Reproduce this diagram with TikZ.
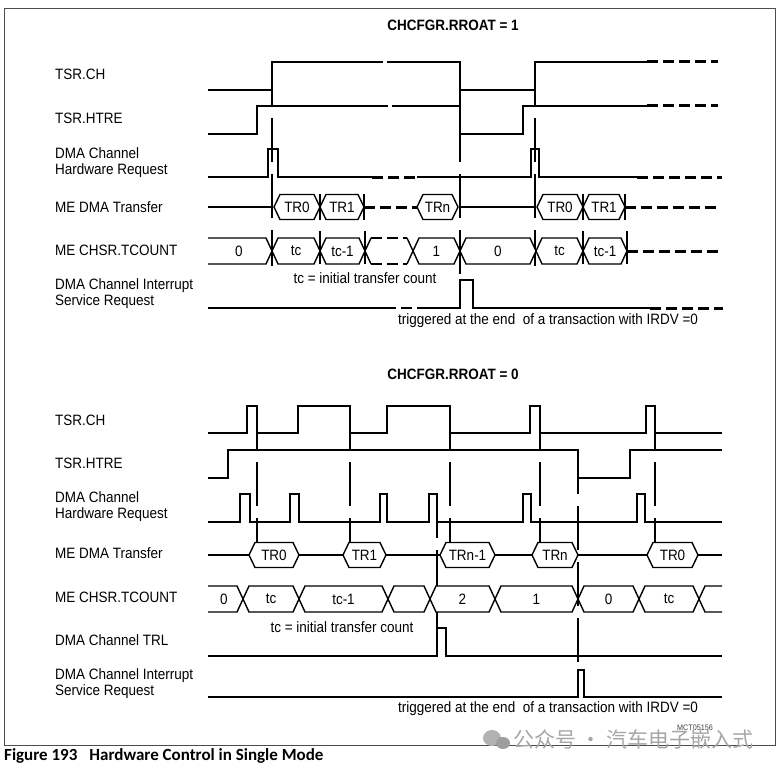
\documentclass[tikz,border=0pt]{standalone}
\usepackage{fontspec}
\setmainfont[FakeStretch=0.9]{Liberation Sans}
\newfontfamily\capfont{Carlito}
\newfontfamily\cjkfont{Noto Sans CJK SC}
\tikzset{
  sig/.style={line width=2.6pt},
  thinsig/.style={line width=1.9pt},
  req/.style={line width=2.1pt},
  bus/.style={line width=1.4pt},
  dsh/.style={line width=3pt, dash pattern=on 11pt off 5pt},
  marker/.style={line width=2.4pt, dash pattern=on 44pt off 12pt},
  tick/.style={line width=2.4pt},
  lbl/.style={anchor=west, inner sep=0pt, align=left, font=\fontsize{15}{16}\selectfont},
  val/.style={inner sep=0pt, font=\fontsize{15}{16}\selectfont},
  ttl/.style={inner sep=0pt, font=\fontsize{15}{16}\selectfont\bfseries},
}
% hexagon / bus value: x1 x2 y halfheight name label
\newcommand\hexb[6]{%
  \draw[bus,fill=white] (#1,#3) -- ({#1+6},{#3-#4}) -- ({#2-6},{#3-#4}) -- (#2,#3) -- ({#2-6},{#3+#4}) -- ({#1+6},{#3+#4}) -- cycle;
  \node[val] (#5) at ({(#1+#2)/2},#3) {#6};}
\begin{document}
\begin{tikzpicture}[x=1pt,y=-1pt]
\useasboundingbox (0,0) rectangle (780,768);
\draw[line width=0.8pt, black!70] (4,8) rectangle (775,745);

% ---------------- titles and labels ----------------
\node[ttl] (t1) at (453,25) {CHCFGR.RROAT = 1};
\node[ttl] (t0) at (453,374) {CHCFGR.RROAT = 0};

\node[lbl] (a1) at (55,74) {TSR.CH};
\node[lbl] (a2) at (55,118) {TSR.HTRE};
\node[lbl] (a3) at (55,163) {DMA Channel\\Hardware Request};
\node[lbl] (a4) at (55,207) {ME DMA Transfer};
\node[lbl] (a5) at (55,250) {ME CHSR.TCOUNT};
\node[lbl] (a6) at (55,294) {DMA Channel Interrupt\\Service Request};

\node[lbl] (b1) at (55,420) {TSR.CH};
\node[lbl] (b2) at (55,463) {TSR.HTRE};
\node[lbl] (b3) at (55,507) {DMA Channel\\Hardware Request};
\node[lbl] (b4) at (55,553) {ME DMA Transfer};
\node[lbl] (b5) at (55,597) {ME CHSR.TCOUNT};
\node[lbl] (b6) at (55,640) {DMA Channel TRL};
\node[lbl] (b7) at (55,684) {DMA Channel Interrupt\\Service Request};

% ================= RROAT = 1 =================
% markers
\draw[marker] (272,62) -- (272,266);
\draw[marker] (460,62) -- (460,280);
\draw[marker] (535,62) -- (535,266);

% TSR.CH
\draw[sig] (208,90) -- (272,90) -- (272,62) -- (372,62);
\draw[sig, dash pattern=on 11pt off 4pt] (372,62) -- (398,62);
\draw[sig] (398,62) -- (460,62) -- (460,90) -- (535,90) -- (535,62) -- (647,62);
\draw[dsh] (647,62) -- (718,62);

% TSR.HTRE
\draw[sig] (208,134) -- (257,134) -- (257,106) -- (377,106);
\draw[sig, dash pattern=on 11pt off 4pt] (377,106) -- (402,106);
\draw[sig] (402,106) -- (460,106) -- (460,134) -- (523,134) -- (523,106) -- (647,106);
\draw[dsh] (647,106) -- (718,106);

% Hardware request
\draw[req] (208,177) -- (268,177) -- (268,149) -- (278,149) -- (278,177) -- (372,177);
\draw[dsh] (372,177) -- (417,177);
\draw[req] (417,177) -- (531,177) -- (531,149) -- (539,149) -- (539,177) -- (637,177);
\draw[dsh] (637,177) -- (722,177);

% ME DMA Transfer
\draw[sig] (208,207) -- (272,207);
\hexb{274}{320}{207}{12.5}{u1}{TR0}
\hexb{320}{364}{207}{12.5}{u2}{TR1}
\draw[dsh] (364,207) -- (417,207);
\hexb{417}{458}{207}{12.5}{u3}{TRn}
\draw[bus] (460,207) -- (535,207);
\hexb{537}{583}{207}{12.5}{u4}{TR0}
\hexb{583}{625}{207}{12.5}{u5}{TR1}
\draw[dsh] (625,207) -- (718,207);
\foreach \xx in {320,364,583,625} \draw[tick] (\xx,194) -- (\xx,220);

% ME CHSR.TCOUNT
\draw[bus] (208,238) -- (266,238) -- (272,251) -- (266,264) -- (208,264);
\node[val] (c0) at (239,251) {0};
\hexb{272}{320}{251}{13}{c1}{tc}
\hexb{320}{365}{251}{13}{c2}{tc-1}
\draw[bus] (371,238) -- (365,251) -- (371,264);
\draw[bus, dash pattern=on 11pt off 5pt, line width=2pt] (371,238) -- (407,238) (371,264) -- (407,264);
\draw[bus] (407,238) -- (413,251) -- (407,264);
\hexb{413}{460}{251}{13}{c3}{1}
\hexb{460}{536}{251}{13}{c4}{0}
\hexb{536}{583}{251}{13}{c5}{tc}
\hexb{583}{627}{251}{13}{c6}{tc-1}
\draw[dsh] (627,251) -- (718,251);
\foreach \xx in {320,365,583,627} \draw[tick] (\xx,231) -- (\xx,264);
\node[val] (n1) at (365,278) {tc = initial transfer count};

% Interrupt service request
\draw[sig] (208,308) -- (385,308);
\draw[sig, dash pattern=on 11pt off 5pt] (385,308) -- (423,308);
\draw[sig] (423,308) -- (460,308) -- (460,280) -- (473,280) -- (473,308) -- (650,308);
\draw[dsh] (650,308) -- (723,308);
\node[val, anchor=west] (n2) at (398,321) {triggered at the end\ \ of a transaction with IRDV =0};

% ================= RROAT = 0 =================
\foreach \xx in {257,350,450,540,655} \draw[marker] (\xx,406) -- (\xx,545);
\draw[marker] (437,494) -- (437,628);
\draw[marker] (578,450) -- (578,670);

% TSR.CH
\draw[sig] (208,433) -- (247,433) -- (247,406) -- (257,406) -- (257,433) -- (298,433) -- (298,406) -- (350,406) -- (350,433) -- (387,433) -- (387,406) -- (450,406) -- (450,433) -- (530,433) -- (530,406) -- (540,406) -- (540,433) -- (646,433) -- (646,406) -- (655,406) -- (655,433) -- (722,433);

% TSR.HTRE
\draw[thinsig] (208,478) -- (228,478) -- (228,450) -- (578,450) -- (578,478) -- (630,478) -- (630,450) -- (722,450);

% Hardware request
\draw[req] (208,522) -- (240,522) -- (240,494) -- (250,494) -- (250,522) -- (290,522) -- (290,494) -- (299,494) -- (299,522) -- (380,522) -- (380,494) -- (387,494) -- (387,522) -- (429,522) -- (429,494) -- (437,494) -- (437,522) -- (523,522) -- (523,494) -- (531,494) -- (531,522) -- (637,522) -- (637,494) -- (645,494) -- (645,522) -- (722,522);

% ME DMA Transfer
\draw[bus, line width=1.7pt] (208,555) -- (722,555);
\hexb{249}{299}{555}{12.5}{v1}{TR0}
\hexb{343}{386}{555}{12.5}{v2}{TR1}
\hexb{440}{495}{555}{12.5}{v3}{TRn-1}
\hexb{532}{578}{555}{12.5}{v4}{TRn}
\hexb{647}{698}{555}{12.5}{v5}{TR0}

% ME CHSR.TCOUNT
\draw[bus] (208,586) -- (237,586) -- (243,599) -- (237,612) -- (208,612);
\node[val] (d0) at (224,599) {0};
\hexb{243}{299}{599}{13}{d1}{tc}
\hexb{299}{388}{599}{13}{d2}{tc-1}
\hexb{388}{430}{599}{13}{d3}{}
\hexb{430}{495}{599}{13}{d4}{2}
\hexb{495}{578}{599}{13}{d5}{1}
\hexb{578}{639}{599}{13}{d6}{0}
\hexb{639}{699}{599}{13}{d7}{tc}
\draw[bus] (722,586) -- (705,586) -- (699,599) -- (705,612) -- (722,612);
\node[val] (n3) at (342,627) {tc = initial transfer count};

% TRL
\draw[sig] (208,656) -- (437,656) -- (437,628) -- (446,628) -- (446,656) -- (722,656);

% Interrupt service request
\draw[sig] (208,697) -- (578,697) -- (578,670) -- (584,670) -- (584,697) -- (722,697);
\node[val, anchor=west] (n4) at (398,709) {triggered at the end\ \ of a transaction with IRDV =0};

% ---------------- footer ----------------
\node[inner sep=0pt, font=\fontsize{8}{9}\selectfont, black!75] (mct) at (695,728) {MCT05156};
\fill[black!30] (492,738) ellipse (9pt and 8pt);
\fill[black!38] (503,743) ellipse (7pt and 6pt);
\node[anchor=west, inner sep=0pt, text=black!35, font=\cjkfont\fontsize{21}{22}\selectfont] (wm) at (513,739) {公众号 · 汽车电子嵌入式};
\node[anchor=west, inner sep=0pt, font=\capfont\bfseries\fontsize{17}{18}\selectfont] (cap) at (4,756) {Figure 193\hspace{12pt}Hardware Control in Single Mode};
\end{tikzpicture}
\end{document}
